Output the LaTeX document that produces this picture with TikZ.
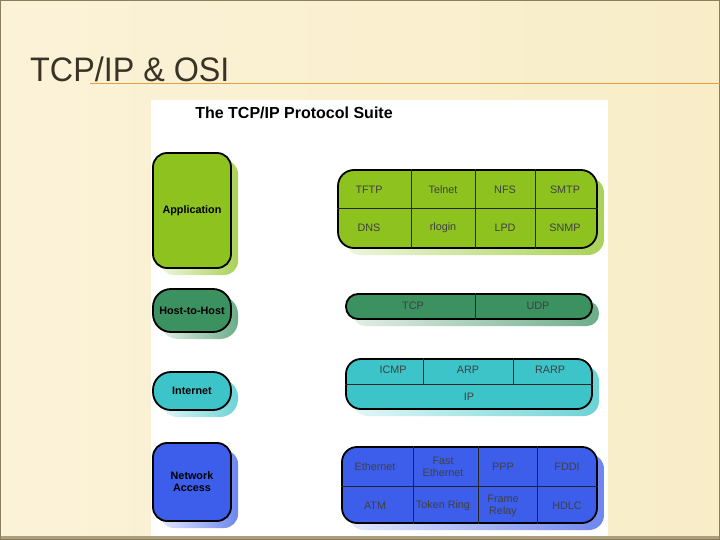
\documentclass[tikz,border=0pt]{standalone}
\usepackage{fontspec}
\setmainfont{Liberation Sans}
\newfontfamily\titlefont[FakeStretch=0.95]{Liberation Sans}
\usetikzlibrary{shadows}

\definecolor{slide}{HTML}{F9EDC8}
\definecolor{framecol}{HTML}{8C7D5C}
\definecolor{titlecol}{HTML}{3B3226}
\definecolor{rulecol}{HTML}{E5A23C}
\definecolor{appgreen}{HTML}{8DC21F}
\definecolor{hostgreen}{HTML}{3C9160}
\definecolor{netcyan}{HTML}{3CC4C8}
\definecolor{linkblue}{HTML}{3D5EEA}

\tikzset{
  layer/.style={draw=black, line width=1.8pt, fill=#1, inner sep=0pt, align=center,
    font=\fontsize{10.8}{12}\selectfont\bfseries,
    general shadow={shadow xshift=7pt, shadow yshift=-7pt,
      left color=#1!15!white, right color=#1!75!white}},
  proto/.style={inner sep=0pt, align=center, text=black!75,
    font=\fontsize{10.8}{11.5}\selectfont},
  divider/.style={line width=0.8pt, black!85}
}

\begin{document}
\begin{tikzpicture}[x=1pt,y=-1pt]
\useasboundingbox (0,0) rectangle (720,540);
% slide background
\fill[left color=slide!70!white, right color=slide] (0,0) rectangle (720,540);
\fill[framecol!70!slide] (0,536) rectangle (720,540);
\draw[framecol, line width=1.5pt] (0,0) rectangle (720,540);
\node[anchor=base west, inner sep=0pt, text=titlecol,
  font=\titlefont\fontsize{34}{34}\selectfont] (title) at (30,82) {TCP/IP \& OSI};
\draw[rulecol, line width=1pt] (90,83.5) -- (720,83.5);
\fill[white] (151,100) rectangle (608,536);
\node[font=\fontsize{16}{16}\selectfont\bfseries] (suite) at (294,113) {The TCP/IP Protocol Suite};

% layers on the left
\node[layer=appgreen, rounded corners=14pt, minimum width=78pt, minimum height=115pt] (app) at (192,210.5) {Application};
\node[layer=hostgreen, rounded corners=18pt, minimum width=78pt, minimum height=43pt] (host) at (192,310.5) {Host-to-Host};
\node[layer=netcyan, rounded corners=18pt, minimum width=78pt, minimum height=38pt] (inet) at (192,391) {Internet};
\node[layer=linkblue, rounded corners=14pt, minimum width=78pt, minimum height=78pt] (nacc) at (192,482) {Network\\Access};

% protocol blocks on the right
\node[layer=appgreen, rounded corners=16pt, minimum width=259pt, minimum height=78pt] (apps) at (467.5,209) {};
\node[layer=hostgreen, rounded corners=12pt, minimum width=246pt, minimum height=25pt] (tcpudp) at (469,306.5) {};
\node[layer=netcyan, rounded corners=15pt, minimum width=246pt, minimum height=50pt] (ipblk) at (469,384) {};
\node[layer=linkblue, rounded corners=15pt, minimum width=255pt, minimum height=76pt] (links) at (469.5,485) {};

% cell lines
\draw[divider] (apps.west |- 0,208) -- (apps.east |- 0,208);
\foreach \cx in {411,475,535}
  \draw[divider] (\cx,0 |- apps.north) -- (\cx,0 |- apps.south);
\draw[divider] (475,0 |- tcpudp.north) -- (475,0 |- tcpudp.south);
\draw[divider] (ipblk.west |- 0,384) -- (ipblk.east |- 0,384);
\foreach \cx in {423,513}
  \draw[divider] (\cx,0 |- ipblk.north) -- (\cx,384);
\draw[divider] (links.west |- 0,486) -- (links.east |- 0,486);
\foreach \cx in {413,478,537}
  \draw[divider] (\cx,0 |- links.north) -- (\cx,0 |- links.south);

% cell texts
\node[proto] (tftp) at (369,190) {TFTP};
\node[proto] (telnet) at (443,190) {Telnet};
\node[proto] (nfs) at (505,190) {NFS};
\node[proto] (smtp) at (565,190) {SMTP};
\node[proto] (dns) at (369,228) {DNS};
\node[proto] (rlogin) at (443,228) {rlogin};
\node[proto] (lpd) at (505,228) {LPD};
\node[proto] (snmp) at (565,228) {SNMP};
\node[proto] (tcp) at (413,306) {TCP};
\node[proto] (udp) at (538,306) {UDP};
\node[proto] (icmp) at (393,370) {ICMP};
\node[proto] (arp) at (468,370) {ARP};
\node[proto] (rarp) at (550,370) {RARP};
\node[proto] (ip) at (469,397) {IP};
\node[proto] (eth) at (375,467) {Ethernet};
\node[proto] (feth) at (443,467) {Fast\\Ethernet};
\node[proto] (ppp) at (503,467) {PPP};
\node[proto] (fddi) at (567,467) {FDDI};
\node[proto] (atm) at (375,506) {ATM};
\node[proto] (tring) at (443,506) {Token Ring};
\node[proto] (frelay) at (503,506) {Frame\\Relay};
\node[proto] (hdlc) at (567,506) {HDLC};
\end{tikzpicture}
\end{document}
